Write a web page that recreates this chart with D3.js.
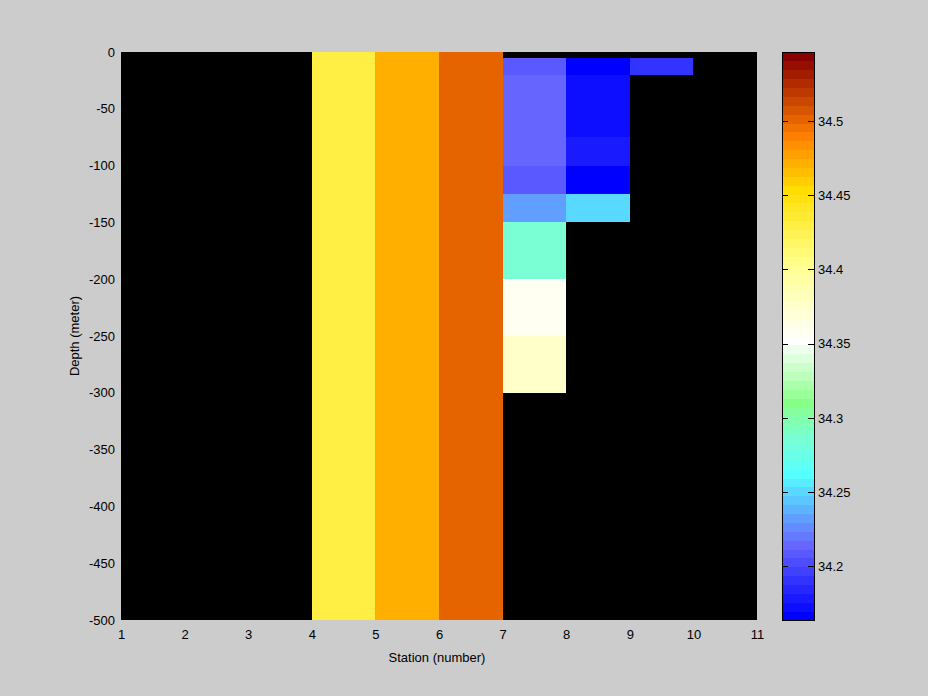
<!DOCTYPE html>
<html><head><meta charset="utf-8">
<script src="https://cdn.jsdelivr.net/npm/d3@7"></script>
<style>
body{margin:0;background:#cccccc;}
text{font-family:"Liberation Sans",Arial,Helvetica,sans-serif;}
</style>
</head><body><svg id="c" width="928" height="696"></svg>
<script>
// ---- data ----
const stationTicks = [1,2,3,4,5,6,7,8,9,10,11];
const depthTicks = [0,-50,-100,-150,-200,-250,-300,-350,-400,-450,-500];
const colorTicks = [34.2,34.25,34.3,34.35,34.4,34.45,34.5];
const colorLimits = [34.1638, 34.5465];
const depthRange = [0,-500];
const stationRange = [1,11];
// stations whose salinity is uniform over the full depth
const fullColumnStations = [4,5,6];
const fullColumnSalinity = [34.430,34.472,34.502];
// profile stations: layer edges (m) and salinity per layer
const depthEdges = [-5,-20,-50,-75,-100,-125,-150,-200,-250,-300];
const profileStations = [7,8,9];
const salinityStation7 = [34.209,34.215,34.215,34.215,34.209,34.233,34.286,34.358,34.376];
const salinityStation8 = [34.167,34.173,34.173,34.179,34.167,34.251,null,null,null];
const salinityStation9 = [34.191,null,null,null,null,null,null,null,null];
// colormap anchors (level index of 64 -> colour)
const cmapLevels = [0,8,16,20,24,31,40,48,54,63];
const cmapColors = ["#0000ff","#6666ff","#55ffff","#7affd5","#88ff88","#ffffff","#ffff88","#ffdd00","#ff8000","#880000"];
const nLevels = 64;

// ---- layout ----
const svg = d3.select("#c");
const P = {left:121, right:757, top:52, bottom:620};
const CB = {left:782, right:814};

const x = d3.scaleLinear().domain(stationRange).range([P.left,P.right]);
const y = d3.scaleLinear().domain(depthRange).range([P.top,P.bottom]);
const cy = d3.scaleLinear().domain(colorLimits).range([P.bottom,P.top]);

const lin = d3.scaleLinear().domain(cmapLevels).range(cmapColors).interpolate(d3.interpolateRgb);
const palette = d3.range(nLevels).map(i => d3.color(lin(i)).formatHex());
const color = d3.scaleQuantize().domain(colorLimits).range(palette);

svg.append("rect").attr("width",928).attr("height",696).attr("fill","#cccccc");

// plot background (NaN = black)
svg.append("rect").attr("x",P.left).attr("y",P.top)
  .attr("width",P.right-P.left).attr("height",P.bottom-P.top).attr("fill","#000");

const g = svg.append("g").attr("shape-rendering","crispEdges");

// full columns
g.selectAll("rect.full").data(fullColumnStations.map((s,i)=>({s, v:fullColumnSalinity[i]})))
  .join("rect").attr("class","full")
  .attr("x",d=>x(d.s)).attr("width",d=>x(d.s+1)-x(d.s))
  .attr("y",y(depthRange[0])).attr("height",y(depthRange[1])-y(depthRange[0]))
  .attr("fill",d=>color(d.v));

// profile cells (10 edges -> 9 layers)
const profiles = [salinityStation7,salinityStation8,salinityStation9];
const cells = [];
profiles.forEach((vals,k)=>{
  vals.forEach((v,j)=>{
    if(v==null || j+1>=depthEdges.length) return;
    cells.push({s:profileStations[k], top:depthEdges[j], bot:depthEdges[j+1], v});
  });
});
g.selectAll("rect.cell").data(cells).join("rect").attr("class","cell")
  .attr("x",d=>x(d.s)).attr("width",d=>x(d.s+1)-x(d.s))
  .attr("y",d=>y(d.top)).attr("height",d=>y(d.bot)-y(d.top))
  .attr("fill",d=>color(d.v));

// axes
const fs = "13px";
const ax = svg.append("g").attr("transform",`translate(0,${P.bottom})`)
  .call(d3.axisBottom(x).tickValues(stationTicks).tickSize(0).tickPadding(10).tickFormat(d=>String(d)));
ax.select(".domain").remove();
ax.selectAll("text").attr("font-size",fs).attr("fill","#000");

const ay = svg.append("g").attr("transform",`translate(${P.left},0)`)
  .call(d3.axisLeft(y).tickValues(depthTicks).tickSize(0).tickPadding(6).tickFormat(d=>String(d)));
ay.select(".domain").remove();
ay.selectAll("text").attr("font-size",fs).attr("fill","#000");

svg.append("text").attr("x",437).attr("y",662)
  .attr("text-anchor","middle").attr("font-size",fs).text("Station (number)");
svg.append("text").attr("transform",`translate(79,${(P.top+P.bottom)/2}) rotate(-90)`)
  .attr("text-anchor","middle").attr("font-size",fs).text("Depth (meter)");

// colorbar
const step = (colorLimits[1]-colorLimits[0])/nLevels;
const cb = svg.append("g").attr("shape-rendering","crispEdges");
cb.selectAll("rect").data(palette).join("rect")
  .attr("x",CB.left).attr("width",CB.right-CB.left)
  .attr("y",(d,i)=>cy(colorLimits[0]+(i+1)*step))
  .attr("height",(d,i)=>cy(colorLimits[0]+i*step)-cy(colorLimits[0]+(i+1)*step)+0.5)
  .attr("fill",d=>d);
cb.append("rect").attr("x",CB.left).attr("y",P.top).attr("width",CB.right-CB.left)
  .attr("height",P.bottom-P.top).attr("fill","none").attr("stroke","#000");

const cr = svg.append("g").attr("transform",`translate(${CB.right},0)`)
  .call(d3.axisRight(cy).tickValues(colorTicks).tickSize(-6).tickPadding(4).tickFormat(d=>String(d)));
cr.select(".domain").remove();
cr.selectAll("line").attr("stroke","#000").attr("shape-rendering","crispEdges");
cr.selectAll("text").attr("font-size",fs).attr("fill","#000");
const cl = svg.append("g").attr("transform",`translate(${CB.left},0)`)
  .call(d3.axisLeft(cy).tickValues(colorTicks).tickSize(-6).tickFormat(""));
cl.select(".domain").remove();
cl.selectAll("line").attr("stroke","#000").attr("shape-rendering","crispEdges");
</script>
</body></html>
